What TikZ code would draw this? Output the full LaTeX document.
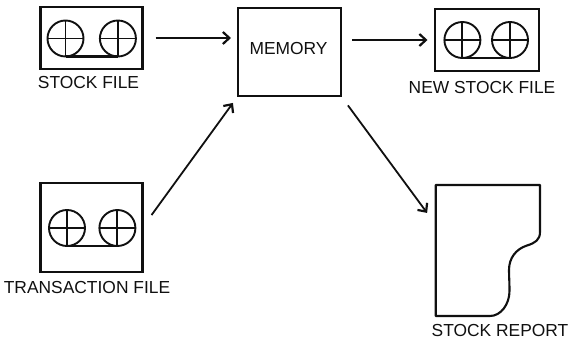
\documentclass[tikz,border=0pt]{standalone}
\usepackage{fontspec}
\setmainfont{Liberation Sans}
\usetikzlibrary{arrows.meta}
\definecolor{ink}{HTML}{101010}
\tikzset{
  x=1pt,y=-1pt,
  boxshape/.style={draw=ink,line width=2.1pt,rectangle,inner sep=0pt,outer sep=0pt},
  reel/.style={draw=ink,line width=1.9pt,circle,minimum size=36pt,inner sep=0pt,outer sep=0pt},
  caption/.style={text=ink,inner sep=0pt,font=\fontsize{17.4}{19}\selectfont,anchor=center},
  conn/.style={draw=ink,line width=1.8pt,-{Straight Barb[length=6.5pt,width=12pt,line width=2.2pt]}},
  cross/.style={draw=ink,line width=1.9pt},
  tapeline/.style={draw=ink,line width=2.2pt},
  pics/tape/.style={code={
    \node[reel] (-l) at (-#1,0) {};
    \node[reel] (-r) at (#1,0) {};
    \draw[cross] (-l.north) -- (-l.south) (-l.west) -- (-l.east);
    \draw[cross] (-r.north) -- (-r.south) (-r.west) -- (-r.east);
    \draw[tapeline] (-l.south) -- (-r.south);
  }}
}
\begin{document}
\begin{tikzpicture}
\useasboundingbox (0,0) rectangle (570,344);
% boxes
\node[boxshape,minimum width=102pt,minimum height=62pt] (stock) at (91.5,38) {};
\node[boxshape,minimum width=103pt,minimum height=88pt] (memory) at (289.5,52) {};
\node[boxshape,minimum width=104pt,minimum height=62pt] (new) at (487,40) {};
\node[boxshape,minimum width=102pt,minimum height=89pt] (trans) at (91.5,227.5) {};
% reels
\pic (sr) at (91.7,38.5) {tape=26.2};
\pic (nr) at (486.2,40) {tape=23.8};
\pic (tr) at (92.2,228) {tape=25.2};
% report
\coordinate (repin) at (435.7,224.6);
\draw[ink,line width=2.1pt,line join=round] (435.7,185) -- (540,185) -- (540,232)
  .. controls (540,240) and (535,243) .. (527,245.5)
  .. controls (516,249) and (509,258) .. (509,270)
  .. controls (509,276) and (509.5,282) .. (509.5,291)
  .. controls (509.5,304) and (501,316) .. (490,316) -- (435.7,316) -- cycle;
% text
\node[caption] (lmem) at (288.5,49) {MEMORY};
\node[caption] (lstock) at (88.5,83) {STOCK FILE};
\node[caption] (lnew) at (482,88) {NEW STOCK FILE};
\node[caption] (ltrans) at (87,288) {TRANSACTION FILE};
\node[caption] (lrep) at (500,331) {STOCK REPORT};
% connectors
\draw[conn,shorten <=13pt,shorten >=7pt] (stock.east) -- (stock.east -| memory.west);
\draw[conn,shorten <=11pt,shorten >=7.5pt] (memory.east |- new.west) -- (new.west);
\draw[conn,shorten <=15.4pt,shorten >=8.6pt] (trans.east) -- (memory.south west);
\draw[conn,shorten <=11.7pt,shorten >=14.5pt] (memory.south east) -- (repin);
\end{tikzpicture}
\end{document}
